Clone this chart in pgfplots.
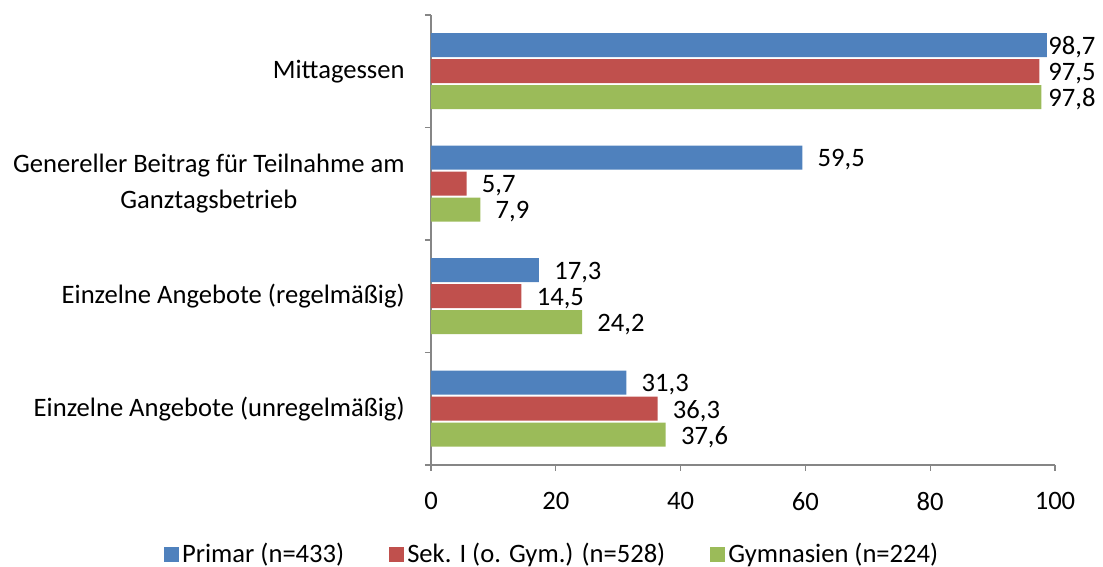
\documentclass[border=0pt]{standalone}
\usepackage{fontspec}
\setmainfont{Carlito}
\usepackage{pgfplots}
\usepackage{pgfplotstable}
\pgfplotsset{compat=1.18}
\definecolor{cblue}{HTML}{4F81BD}
\definecolor{cred}{HTML}{C0504D}
\definecolor{cgreen}{HTML}{9BBB59}
\definecolor{axgray}{HTML}{868686}

\pgfplotstableread{
y val sh
3 98.7 0.5
2 59.5 7.5
1 17.3 7.5
0 31.3 7.5
}\primar
\pgfplotstableread{
y val sh
3 97.5 4.3
2 5.7 7.5
1 14.5 7.5
0 36.3 7.5
}\sek
\pgfplotstableread{
y val sh
3 97.8 3.4
2 7.9 7.5
1 24.2 7.5
0 37.6 7.5
}\gym

\pgfplotsset{
  /pgf/number format/assume math mode=true,
  mybar/.style={
    xbar, draw=none, bar width=12pt, bar shift=#1,
    point meta=x,
    visualization depends on={\thisrow{sh} \as \sh},
    nodes near coords={\pgfmathprintnumber[fixed,fixed zerofill,precision=1,use comma]{\pgfplotspointmeta}},
    every node near coord/.append style={anchor=west, inner sep=0pt, xshift=\sh pt, yshift=#1-1pt, text=black},
    legend image code/.code={\fill[##1] (0pt,-3.75pt) rectangle (7.5pt,3.75pt);},
  },
}

\begin{document}
\fontsize{13.3}{18}\selectfont
\begin{tikzpicture}
\useasboundingbox (-215.5pt,-51pt) rectangle (336pt,232.5pt);
\begin{axis}[
  scale only axis,
  width=312pt, height=225pt,
  xmin=0, xmax=100, ymin=-0.5, ymax=3.5,
  clip=false,
  axis x line*=bottom, axis y line*=left,
  axis line style={draw=axgray, -},
  tick style={draw=axgray, line width=0.6pt},
  axis line style={line width=0.6pt},
  tick align=outside,
  major tick length=3pt,
  xtick={0,20,...,100},
  xticklabel style={inner sep=0pt, yshift=-10.5pt},
  ytick={-0.5,0.5,1.5,2.5,3.5},
  yticklabels={},
  extra y ticks={0,1,2,3},
  extra y tick labels={{Einzelne Angebote (unregelmäßig)},{Einzelne Angebote (regelmäßig)},{Genereller Beitrag für Teilnahme am\\Ganztagsbetrieb},{Mittagessen}},
  extra y tick style={major tick length=0pt, yticklabel style={align=center, inner sep=0pt, xshift=-13pt}},
  legend style={at={(0.195,-0.2)}, anchor=center, legend columns=3, draw=none, fill=none,
    nodes={inner sep=1.5pt},
    /tikz/every even column/.append style={column sep=21pt}},
  legend cell align=left,
]
\addplot[mybar=13pt, fill=cblue] table[x=val,y=y] {\primar};
\addplot[mybar=0pt, fill=cred] table[x=val,y=y] {\sek};
\addplot[mybar=-13pt, fill=cgreen] table[x=val,y=y] {\gym};
\legend{Primar (n=433), Sek. I (o. Gym.) (n=528), Gymnasien (n=224)}
\end{axis}
\end{tikzpicture}
\end{document}
